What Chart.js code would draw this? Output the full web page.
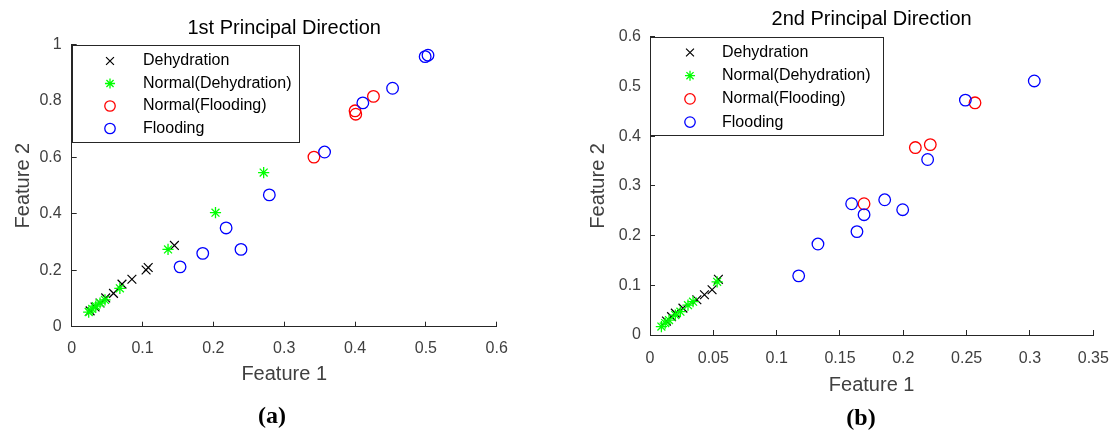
<!DOCTYPE html>
<html>
<head>
<meta charset="utf-8">
<script src="https://cdn.jsdelivr.net/npm/chart.js@4.4.1/dist/chart.umd.min.js"></script>
<style>
  html, body { margin: 0; padding: 0; background: #fff; overflow: hidden; }
  .box { position: absolute; top: 0; height: 430px; }
  .tag { position: absolute; width: 100px; text-align: center; font: bold 24px "Liberation Serif", "DejaVu Serif", serif; line-height: 26px; color: #000; }
</style>
</head>
<body>
<div class="box" style="left:0;width:556px"><canvas id="chartA"></canvas></div>
<div class="box" style="left:556px;width:556px"><canvas id="chartB"></canvas></div>
<div class="tag" style="left:222px;top:402px">(a)</div>
<div class="tag" style="left:811px;top:404px">(b)</div>
<script>
// labels
const seriesNames = ['Dehydration', 'Normal(Dehydration)', 'Normal(Flooding)', 'Flooding'];

// (a) 1st principal direction
const dehydAx = [0.026, 0.033, 0.040, 0.048, 0.059, 0.071, 0.085, 0.105, 0.108, 0.145];
const dehydAy = [0.056, 0.070, 0.084, 0.102, 0.118, 0.151, 0.168, 0.201, 0.210, 0.288];
const normDehydAx = [0.024, 0.029, 0.034, 0.040, 0.047, 0.068, 0.136, 0.203, 0.271];
const normDehydAy = [0.052, 0.063, 0.073, 0.084, 0.095, 0.136, 0.274, 0.404, 0.546];
const normFloodAx = [0.342, 0.400, 0.401, 0.426];
const normFloodAy = [0.601, 0.765, 0.753, 0.816];
const floodAx = [0.153, 0.185, 0.218, 0.239, 0.279, 0.357, 0.411, 0.453, 0.499, 0.503];
const floodAy = [0.212, 0.260, 0.350, 0.274, 0.467, 0.619, 0.793, 0.845, 0.957, 0.962];
const xTicksA = ['0', '0.1', '0.2', '0.3', '0.4', '0.5', '0.6'];
const yTicksA = ['0', '0.2', '0.4', '0.6', '0.8', '1'];

// (b) 2nd principal direction
const dehydBx = [0.013, 0.017, 0.020, 0.026, 0.037, 0.043, 0.049, 0.054];
const dehydBy = [0.028, 0.037, 0.044, 0.054, 0.071, 0.081, 0.091, 0.112];
const normDehydBx = [0.009, 0.012, 0.015, 0.020, 0.024, 0.030, 0.034, 0.053];
const normDehydBy = [0.017, 0.024, 0.030, 0.040, 0.047, 0.060, 0.067, 0.107];
const normFloodBx = [0.169, 0.2095, 0.2213, 0.2566];
const normFloodBy = [0.264, 0.377, 0.383, 0.467];
const floodBx = [0.1174, 0.1326, 0.1592, 0.1634, 0.169, 0.1853, 0.1995, 0.2192, 0.249, 0.3034];
const floodBy = [0.119, 0.183, 0.264, 0.208, 0.242, 0.272, 0.252, 0.353, 0.4725, 0.511];
const xTicksB = ['0', '0.05', '0.1', '0.15', '0.2', '0.25', '0.3', '0.35'];
const yTicksB = ['0', '0.1', '0.2', '0.3', '0.4', '0.5', '0.6'];

Chart.defaults.font.family = '"Liberation Sans", Arial, sans-serif';
Chart.defaults.animation = false;

const axisColor = '#262626';
const labelColor = '#404040';

function pts(xs, ys) {
    return xs.map((x, i) => ({x: x, y: ys[i]}));
}

function makeSets(d) {
    return [
        {label: seriesNames[0], data: pts(d[0], d[1]), pointStyle: 'crossRot', pointRadius: 6.2, borderColor: '#000000', borderWidth: 1.2, order: 4},
        {label: seriesNames[1], data: pts(d[2], d[3]), pointStyle: 'star', pointRadius: 5.6, borderColor: '#00ff00', borderWidth: 1.3, order: 3},
        {label: seriesNames[2], data: pts(d[4], d[5]), pointStyle: 'circle', pointRadius: 5.8, borderColor: '#ff0000', backgroundColor: 'rgba(0,0,0,0)', borderWidth: 1.3, order: 2},
        {label: seriesNames[3], data: pts(d[6], d[7]), pointStyle: 'circle', pointRadius: 5.8, borderColor: '#0000ff', backgroundColor: 'rgba(0,0,0,0)', borderWidth: 1.3, order: 1}
    ];
}

// legend drawn inside the axes, with a frame
const boxLegend = {
    id: 'boxLegend',
    afterDatasetsDraw(chart, args, opts) {
        const ctx = chart.ctx;
        const x0 = Math.round(chart.chartArea.left), y0 = Math.round(chart.chartArea.top);
        ctx.save();
        ctx.fillStyle = '#ffffff';
        ctx.fillRect(x0, y0, opts.width, opts.height);
        ctx.strokeStyle = axisColor;
        ctx.lineWidth = 1;
        ctx.strokeRect(x0 + 0.5, y0 + 0.5, opts.width, opts.height);
        ctx.font = '16px "Liberation Sans", Arial, sans-serif';
        ctx.textBaseline = 'middle';
        chart.data.datasets.forEach((ds, i) => {
            const y = y0 + opts.firstRow + i * opts.rowH;
            ctx.strokeStyle = ds.borderColor;
            ctx.fillStyle = 'rgba(0,0,0,0)';
            ctx.lineWidth = ds.borderWidth;
            Chart.helpers.drawPoint(ctx, {pointStyle: ds.pointStyle, radius: ds.pointRadius * 0.9, borderWidth: ds.borderWidth, rotation: 0}, x0 + opts.markerX, y);
            ctx.fillStyle = '#000000';
            ctx.fillText(ds.label, x0 + opts.textX, y);
        });
        ctx.restore();
    }
};

function axis(ticks, min, max, title, cfg) {
    return {
        type: 'linear',
        min: min,
        max: max,
        afterBuildTicks: s => { s.ticks = ticks.map(t => ({value: parseFloat(t)})); },
        afterFit: s => {
            if (cfg.width) s.width = cfg.width;
            if (cfg.height) s.height = cfg.height;
            s.paddingLeft = 0; s.paddingRight = 0; s.paddingTop = 0; s.paddingBottom = 0;
        },
        ticks: {
            callback: (v, i) => ticks[i],
            color: labelColor,
            font: {size: 16},
            padding: cfg.pad,
            maxRotation: 0,
            autoSkip: false
        },
        grid: {drawOnChartArea: false, drawTicks: true, tickLength: -5, color: axisColor, lineWidth: 1},
        border: {display: true, color: axisColor, width: 1},
        title: {display: true, text: title, color: labelColor, font: {size: 20}, padding: cfg.titlePad}
    };
}

function makeChart(id, d, o) {
    return new Chart(document.getElementById(id), {
        type: 'scatter',
        data: {datasets: makeSets(d)},
        options: {
            responsive: true,
            maintainAspectRatio: false,
            layout: {padding: o.padding},
            scales: {
                x: axis(o.xTicks, o.xMin, o.xMax, 'Feature 1', {height: o.xHeight, pad: o.xPad, titlePad: {top: 0, bottom: 0}}),
                y: axis(o.yTicks, o.yMin, o.yMax, 'Feature 2', {width: o.yWidth, pad: o.yPad, titlePad: {top: o.yTitlePad, bottom: 0}})
            },
            plugins: {
                legend: {display: false},
                tooltip: {enabled: false},
                title: {display: true, fullSize: false, text: o.title, color: '#000000', font: {size: 20, weight: 'normal'}, padding: {top: 0, bottom: o.titleGap}},
                boxLegend: o.legend
            }
        },
        plugins: [boxLegend]
    });
}

makeChart('chartA',
    [dehydAx, dehydAy, normDehydAx, normDehydAy, normFloodAx, normFloodAy, floodAx, floodAy],
    {
        title: '1st Principal Direction', titleGap: 3.9,
        xTicks: xTicksA, xMin: 0, xMax: 0.6, yTicks: yTicksA, yMin: 0, yMax: 1,
        padding: {left: 0, right: 59.3, top: 16.6, bottom: 43.3},
        xHeight: 60, xPad: 17, yWidth: 71.7, yPad: 15, yTitlePad: 11,
        legend: {width: 227, height: 97, firstRow: 16, rowH: 22.5, markerX: 38, textX: 71}
    });

makeChart('chartB',
    [dehydBx, dehydBy, normDehydBx, normDehydBy, normFloodBx, normFloodBy, floodBx, floodBy],
    {
        title: '2nd Principal Direction', titleGap: 4.9,
        xTicks: xTicksB, xMin: 0, xMax: 0.35, yTicks: yTicksB, yMin: 0, yMax: 0.6,
        padding: {left: 0, right: 18.7, top: 7.8, bottom: 33},
        xHeight: 62, xPad: 18.7, yWidth: 94, yPad: 14, yTitlePad: 30,
        legend: {width: 233, height: 98, firstRow: 15.5, rowH: 23.2, markerX: 40, textX: 72}
    });
</script>
</body>
</html>
